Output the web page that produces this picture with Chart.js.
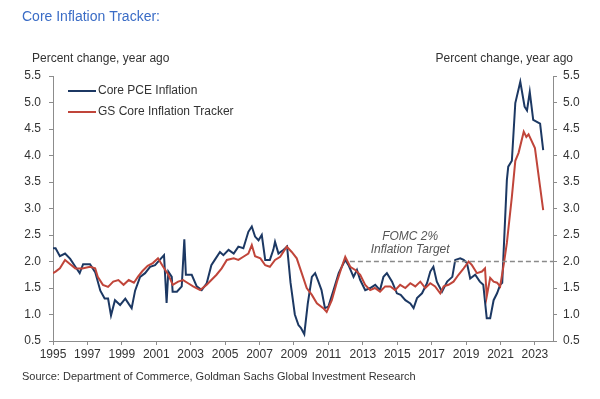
<!DOCTYPE html>
<html>
<head>
<meta charset="utf-8">
<script src="https://cdn.jsdelivr.net/npm/chart.js@4.4.1/dist/chart.umd.min.js"></script>
<style>
  html, body { margin: 0; padding: 0; background: #fff; }
  #wrap { width: 600px; height: 399px; position: relative; }
</style>
</head>
<body>
<div id="wrap"><canvas id="myChart" width="600" height="399"></canvas></div>
<script>
// Core PCE inflation, % y/y
var pceDates = [1995.0, 1995.15, 1995.4, 1995.7, 1996.0, 1996.3, 1996.55, 1996.75, 1997.15, 1997.45,
  1997.75, 1998.0, 1998.2, 1998.37, 1998.6, 1998.9, 1999.2, 1999.4, 1999.57, 1999.77,
  2000.06, 2000.35, 2000.64, 2000.93, 2001.2, 2001.45, 2001.6, 2001.7, 2001.9, 2001.95,
  2002.2, 2002.48, 2002.63, 2002.72, 2003.06, 2003.35, 2003.64, 2003.93, 2004.2, 2004.4,
  2004.7, 2004.9, 2005.2, 2005.5, 2005.77, 2006.06, 2006.35, 2006.55, 2006.74, 2006.94,
  2007.13, 2007.33, 2007.6, 2007.8, 2007.9, 2008.1, 2008.4, 2008.6, 2008.8, 2009.05,
  2009.26, 2009.4, 2009.6, 2009.8, 2010.04, 2010.23, 2010.42, 2010.6, 2010.8, 2011.0,
  2011.3, 2011.6, 2011.78, 2011.98, 2012.17, 2012.46, 2012.66, 2012.85, 2013.14, 2013.43,
  2013.72, 2014.0, 2014.2, 2014.4, 2014.7, 2014.98, 2015.2, 2015.47, 2015.76, 2015.95,
  2016.15, 2016.44, 2016.73, 2016.92, 2017.1, 2017.3, 2017.6, 2017.9, 2018.2, 2018.37,
  2018.66, 2018.86, 2019.05, 2019.24, 2019.53, 2019.8, 2020.0, 2020.2, 2020.4, 2020.6,
  2020.8, 2020.98, 2021.1, 2021.37, 2021.45, 2021.66, 2021.86, 2022.15, 2022.4, 2022.54,
  2022.7, 2022.9, 2023.3, 2023.48];
var pceValues = [2.25, 2.25, 2.1, 2.15, 2.05, 1.9, 1.78, 1.95, 1.95, 1.8,
  1.45, 1.3, 1.3, 0.98, 1.27, 1.18, 1.3, 1.2, 1.12, 1.45,
  1.71, 1.78, 1.9, 1.93, 2.03, 2.12, 1.22, 1.81, 1.71, 1.43,
  1.43, 1.53, 2.42, 1.75, 1.75, 1.53, 1.46, 1.59, 1.93, 2.03,
  2.18, 2.12, 2.22, 2.15, 2.28, 2.25, 2.56, 2.66, 2.47, 2.4,
  2.5, 2.03, 2.03, 2.22, 2.37, 2.15, 2.22, 2.28, 1.6, 1.0,
  0.8, 0.75, 0.63, 1.2, 1.71, 1.78, 1.62, 1.46, 1.12, 1.15,
  1.46, 1.78, 1.9, 2.03, 1.93, 1.71, 1.84, 1.65, 1.46, 1.5,
  1.56, 1.46, 1.71, 1.78, 1.62, 1.4, 1.37, 1.27, 1.21, 1.12,
  1.31, 1.4, 1.59, 1.81, 1.9, 1.62, 1.43, 1.62, 1.71, 2.03,
  2.06, 2.03, 1.97, 1.68, 1.75, 1.62, 1.56, 0.93, 0.93, 1.27,
  1.4, 1.56, 1.6, 3.54, 3.79, 3.9, 4.99, 5.39, 4.92, 4.85,
  5.2, 4.67, 4.6, 4.1];

// GS core inflation tracker, % y/y
var gsDates = [1995.0, 1995.15, 1995.4, 1995.7, 1996.0, 1996.3, 1996.7, 1997.15, 1997.45, 1997.6,
  1997.9, 1998.2, 1998.5, 1998.8, 1999.1, 1999.4, 1999.7, 1999.95, 2000.2, 2000.5,
  2000.8, 2001.1, 2001.4, 2001.7, 2001.96, 2002.27, 2002.56, 2002.85, 2003.14, 2003.55,
  2003.93, 2004.2, 2004.5, 2004.8, 2005.1, 2005.5, 2005.77, 2006.06, 2006.35, 2006.55,
  2006.74, 2007.05, 2007.33, 2007.6, 2007.9, 2008.2, 2008.58, 2008.87, 2009.16, 2009.45,
  2009.74, 2010.04, 2010.33, 2010.7, 2010.9, 2011.2, 2011.5, 2011.78, 2011.98, 2012.27,
  2012.56, 2012.85, 2013.14, 2013.43, 2013.7, 2014.0, 2014.3, 2014.6, 2014.88, 2015.17,
  2015.47, 2015.76, 2016.05, 2016.34, 2016.63, 2016.92, 2017.2, 2017.5, 2017.7, 2017.98,
  2018.27, 2018.56, 2018.86, 2019.15, 2019.34, 2019.63, 2019.92, 2020.1, 2020.2, 2020.4,
  2020.6, 2020.8, 2020.98, 2021.2, 2021.37, 2021.66, 2021.86, 2022.05, 2022.35, 2022.5,
  2022.63, 2023.0, 2023.3, 2023.48];
var gsValues = [1.78, 1.81, 1.87, 2.03, 1.95, 1.87, 1.87, 1.9, 1.87, 1.71,
  1.56, 1.52, 1.62, 1.65, 1.56, 1.65, 1.6, 1.72, 1.82, 1.92,
  1.97, 2.06, 1.9, 1.75, 1.56, 1.62, 1.65, 1.59, 1.53, 1.46,
  1.56, 1.65, 1.75, 1.87, 2.03, 2.06, 2.03, 2.09, 2.15, 2.31,
  2.1, 2.06, 1.93, 1.9, 2.03, 2.09, 2.28, 2.18, 2.06, 1.78,
  1.5, 1.37, 1.21, 1.12, 1.05, 1.27, 1.62, 1.9, 2.09, 1.9,
  1.84, 1.75, 1.56, 1.46, 1.5, 1.43, 1.53, 1.53, 1.46, 1.56,
  1.5, 1.59, 1.53, 1.62, 1.5, 1.59, 1.53, 1.4, 1.53, 1.56,
  1.62, 1.75, 1.87, 2.0, 1.93, 1.78, 1.81, 1.87, 1.34, 1.69,
  1.62, 1.6, 1.53, 1.97, 2.35, 3.22, 3.9, 4.05, 4.45, 4.35,
  4.4, 4.14, 3.41, 2.97];

// FOMC target line
var targetDates = [2012.25, 2024.05];
var targetValues = [2.0, 2.0];

var yearTicks = [1995, 1997, 1999, 2001, 2003, 2005, 2007, 2009, 2011, 2013, 2015, 2017, 2019, 2021, 2023];
var pctTicks = [0.5, 1.0, 1.5, 2.0, 2.5, 3.0, 3.5, 4.0, 4.5, 5.0, 5.5];

var NAVY = "#1c3863";
var RED = "#c0453a";
var FONT = "'Liberation Sans', Arial, sans-serif";

function toPoints(xs, ys) {
  return xs.map(function (x, i) { return { x: x, y: ys[i] }; });
}

var textPlugin = {
  id: "texts",
  afterDraw: function (chart) {
    var c = chart.ctx;
    var xs = chart.scales.x, ys = chart.scales.y;
    c.save();
    c.textBaseline = "middle";
    // title
    c.fillStyle = "#3a6cc6";
    c.font = "14px " + FONT;
    c.textAlign = "left";
    c.fillText("Core Inflation Tracker:", 22, 17);
    // axis titles
    c.fillStyle = "#333";
    c.font = "12px " + FONT;
    c.fillText("Percent change, year ago", 32, 59);
    c.textAlign = "right";
    c.fillText("Percent change, year ago", 573, 59);
    // legend
    c.textAlign = "left";
    c.lineWidth = 2;
    c.strokeStyle = NAVY;
    c.beginPath(); c.moveTo(68, 91); c.lineTo(96, 91); c.stroke();
    c.fillText("Core PCE Inflation", 98, 91);
    c.strokeStyle = RED;
    c.beginPath(); c.moveTo(68, 112); c.lineTo(96, 112); c.stroke();
    c.fillText("GS Core Inflation Tracker", 98, 112);
    // annotation
    c.textAlign = "center";
    c.fillStyle = "#555";
    c.font = "italic 12px " + FONT;
    var ax = xs.getPixelForValue(2015.75);
    c.fillText("FOMC 2%", ax, ys.getPixelForValue(2.0) - 25);
    c.fillText("Inflation Target", ax, ys.getPixelForValue(2.0) - 12);
    // source
    c.textAlign = "left";
    c.fillStyle = "#333";
    c.font = "11px " + FONT;
    c.fillText("Source: Department of Commerce, Goldman Sachs Global Investment Research", 22, 377);
    c.restore();
  }
};

var ctx = document.getElementById("myChart").getContext("2d");
var myChart = new Chart(ctx, {
  type: "line",
  data: {
    datasets: [
      {
        label: "FOMC 2% Inflation Target",
        data: toPoints(targetDates, targetValues),
        borderColor: "#8a8a8a",
        borderWidth: 1.5,
        borderDash: [5, 3],
        pointRadius: 0,
      },
      {
        label: "GS Core Inflation Tracker",
        data: toPoints(gsDates, gsValues),
        borderColor: RED,
        borderWidth: 2,
        pointRadius: 0,
        tension: 0,
      },
      {
        label: "Core PCE Inflation",
        data: toPoints(pceDates, pceValues),
        borderColor: NAVY,
        borderWidth: 2,
        pointRadius: 0,
        tension: 0,
      },
    ],
  },
  options: {
    responsive: false,
    animation: false,
    layout: { padding: { top: 76, bottom: 0, left: 0, right: 0 } },
    plugins: { legend: { display: false }, tooltip: { enabled: false } },
    scales: {
      x: {
        type: "linear",
        min: 1995,
        max: 2024.05,
        afterBuildTicks: function (s) { s.ticks = yearTicks.map(function (v) { return { value: v }; }); },
        afterFit: function (s) { s.height = 58; },
        ticks: { color: "#333", font: { family: FONT, size: 12 }, padding: 2, maxRotation: 0, autoSkip: false,
          callback: function (v) { return String(v); } },
        grid: { drawOnChartArea: false, drawTicks: true, tickLength: 4, color: "#8c8c8c" },
        border: { display: true, color: "#8c8c8c" },
      },
      y: {
        position: "left",
        min: 0.5,
        max: 5.5,
        afterBuildTicks: function (s) { s.ticks = pctTicks.map(function (v) { return { value: v }; }); },
        afterFit: function (s) { s.width = 53; },
        ticks: { color: "#333", font: { family: FONT, size: 12 }, padding: 8,
          callback: function (v) { return v.toFixed(1); } },
        grid: { drawOnChartArea: false, drawTicks: true, tickLength: 4, color: "#8c8c8c" },
        border: { display: true, color: "#8c8c8c" },
      },
      y2: {
        position: "right",
        min: 0.5,
        max: 5.5,
        afterBuildTicks: function (s) { s.ticks = pctTicks.map(function (v) { return { value: v }; }); },
        afterFit: function (s) { s.width = 47; },
        ticks: { color: "#333", font: { family: FONT, size: 12 }, padding: 6,
          callback: function (v) { return v.toFixed(1); } },
        grid: { drawOnChartArea: false, drawTicks: true, tickLength: 4, color: "#8c8c8c" },
        border: { display: true, color: "#8c8c8c" },
      },
    },
  },
  plugins: [textPlugin],
});
</script>
</body>
</html>
